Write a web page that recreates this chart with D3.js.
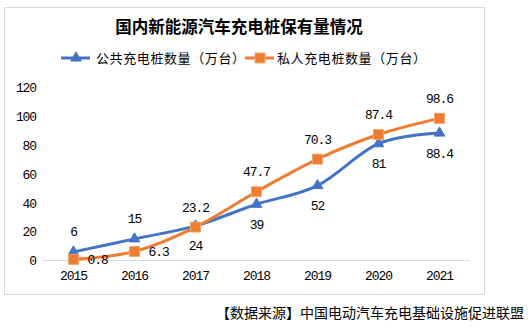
<!DOCTYPE html>
<html>
<head>
<meta charset="utf-8">
<script src="https://cdn.jsdelivr.net/npm/d3@7"></script>
<style>
  body { margin: 0; background: #fff; }
  svg { display: block; }
  .num { font-family: "Liberation Mono", "DejaVu Sans Mono", monospace; font-size: 13px; letter-spacing: -1.1px; fill: #000; }
  .cjk { font-family: "Noto Sans CJK SC", sans-serif; fill: #000; }
</style>
</head>
<body>
<svg width="532" height="327"></svg>
<script>
// years on the x axis
var years = ["2015", "2016", "2017", "2018", "2019", "2020", "2021"];
// charging piles in stock, unit: 10k
var publicPiles = [6, 15, 24, 39, 52, 81, 88.4];
var privatePiles = [0.8, 6.3, 23.2, 47.7, 70.3, 87.4, 98.6];
var yTicks = [0, 20, 40, 60, 80, 100, 120];

var titleText = "国内新能源汽车充电桩保有量情况";
var seriesNames = ["公共充电桩数量（万台）", "私人充电桩数量（万台）"];
var sourceText = "【数据来源】中国电动汽车充电基础设施促进联盟";

var svg = d3.select("svg");

// outer frame of the chart area
svg.append("rect")
    .attr("x", 4.5).attr("y", 7.5)
    .attr("width", 480).attr("height", 287)
    .attr("fill", "#fff")
    .attr("stroke", "#d9d9d9");

var xScale = d3.scaleBand().domain(years).range([43, 470]),
    yScale = d3.scaleLinear().domain([0, 120]).range([260.5, 87.5]);

function xMid(d) { return xScale(d) + xScale.bandwidth() / 2; }

// title
svg.append("text")
    .attr("class", "cjk")
    .attr("x", 239).attr("y", 27)
    .attr("dy", "0.35em")
    .attr("text-anchor", "middle")
    .style("font-size", "16.5px")
    .style("font-weight", "bold")
    .text(titleText);

// baseline
svg.append("line")
    .attr("x1", 43).attr("x2", 470)
    .attr("y1", yScale(0)).attr("y2", yScale(0))
    .attr("stroke", "#d9d9d9");

// y labels, no axis line
var yAxis = svg.append("g")
    .attr("transform", "translate(36,0)")
    .call(d3.axisLeft(yScale).tickValues(yTicks).tickSize(0).tickPadding(0));
yAxis.select(".domain").remove();
yAxis.selectAll("text").attr("class", "num").attr("font-family", null).attr("font-size", null);

// x labels
var xAxis = svg.append("g")
    .attr("transform", "translate(0,271)")
    .call(d3.axisBottom(xScale).tickSize(0).tickPadding(0));
xAxis.select(".domain").remove();
xAxis.selectAll("text").attr("class", "num").attr("font-family", null).attr("font-size", null);

var series = [
  { name: seriesNames[0], values: publicPiles, color: "#4472c4", symbol: d3.symbolTriangle, size: 48, stroke: "#4472c4",
    labelPos: ["above", "above", "below", "below", "below", "below", "below"] },
  { name: seriesNames[1], values: privatePiles, color: "#ed7d31", symbol: d3.symbolSquare, size: 100, stroke: "#f3a36c",
    labelPos: ["right", "right", "above", "above", "above", "above", "above"] }
];

var line = d3.line()
    .curve(d3.curveCardinal.tension(0))
    .x(function(d, i) { return xMid(years[i]); })
    .y(function(d) { return yScale(d); });

var s = svg.selectAll(".series")
    .data(series)
    .enter().append("g")
      .attr("class", "series");

s.append("path")
    .attr("d", function(d) { return line(d.values); })
    .attr("fill", "none")
    .attr("stroke", function(d) { return d.color; })
    .attr("stroke-width", 3)
    .attr("stroke-linecap", "round");

s.each(function(ser) {
  var g = d3.select(this);
  g.selectAll("path.mark")
    .data(ser.values)
    .enter().append("path")
      .attr("class", "mark")
      .attr("transform", function(d, i) { return "translate(" + xMid(years[i]) + "," + yScale(d) + ")"; })
      .attr("d", d3.symbol().type(ser.symbol).size(ser.size))
      .attr("fill", ser.color)
      .attr("stroke", ser.stroke)
      .attr("stroke-width", 1);

  g.selectAll("text.val")
    .data(ser.values)
    .enter().append("text")
      .attr("class", "num val")
      .attr("x", function(d, i) { return xMid(years[i]) + (ser.labelPos[i] == "right" ? 14 : 0); })
      .attr("y", function(d, i) {
        var p = ser.labelPos[i];
        return yScale(d) + (p == "above" ? -20 : p == "below" ? 20 : 0);
      })
      .attr("dy", "0.35em")
      .attr("text-anchor", function(d, i) { return ser.labelPos[i] == "right" ? "start" : "middle"; })
      .text(function(d) { return d; });
});

// legend
var legend = svg.selectAll(".legend")
    .data(series)
    .enter().append("g")
      .attr("class", "legend")
      .attr("transform", function(d, i) { return "translate(" + (i ? 245 : 61) + ",58)"; });

legend.append("line")
    .attr("x1", 0).attr("x2", 29)
    .attr("stroke", function(d) { return d.color; })
    .attr("stroke-width", 3);

legend.append("path")
    .attr("transform", "translate(15,0)")
    .attr("d", function(d) { return d3.symbol().type(d.symbol).size(d.size)(); })
    .attr("fill", function(d) { return d.color; })
    .attr("stroke", function(d) { return d.stroke; });

legend.append("text")
    .attr("class", "cjk")
    .attr("x", function(d, i) { return i ? 32 : 35; })
    .attr("dy", "0.35em")
    .style("font-size", "13px")
    .style("letter-spacing", "0.6px")
    .text(function(d) { return d.name; });

// source note
svg.append("text")
    .attr("class", "cjk")
    .attr("x", 216).attr("y", 313)
    .attr("dy", "0.35em")
    .style("font-size", "14px")
    .text(sourceText);
</script>
</body>
</html>
